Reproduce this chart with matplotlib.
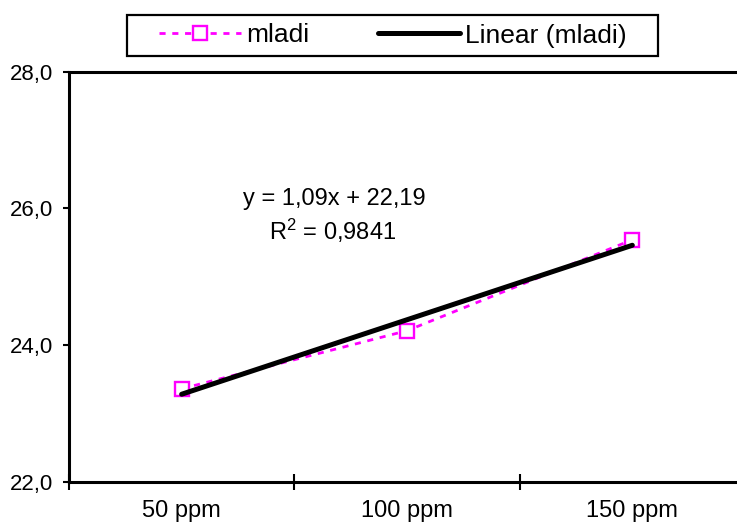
import numpy as np
import matplotlib
matplotlib.use("Agg")
import matplotlib.pyplot as plt
from matplotlib.ticker import FuncFormatter
from matplotlib.patches import Rectangle

plt.rcParams['font.family'] = ['Liberation Sans', 'DejaVu Sans']

categories = ["50 ppm", "100 ppm", "150 ppm"]
mladi = [23.36, 24.21, 25.54]
y_ticks = [22.0, 24.0, 26.0, 28.0]
series_label = "mladi"
trend_label = "Linear (mladi)"

W, H = 737, 528
x = np.arange(1, len(categories) + 1)
coef = np.polyfit(x, mladi, 1)
fit = np.polyval(coef, x)
ss_res = np.sum((np.array(mladi) - fit) ** 2)
ss_tot = np.sum((np.array(mladi) - np.mean(mladi)) ** 2)
r2 = 1 - ss_res / ss_tot

fig = plt.figure(figsize=(W / 100, H / 100), dpi=100)
ax = fig.add_axes([69 / W, 1 - 481.7 / H, (745 - 69) / W, (481.7 - 71.7) / H])

l1, = ax.plot(x, mladi, color='#FF00FF', lw=2.0, linestyle=(0, (2.2, 2.4)),
              marker='s', markersize=10, markerfacecolor='white',
              markeredgecolor='#FF00FF', markeredgewidth=1.7, zorder=3,
              label=series_label)
l2, = ax.plot(x, fit, color='black', lw=3.6, solid_capstyle='round', zorder=4,
              label=trend_label)

ax.set_xlim(0.5, len(categories) + 0.5)
ax.set_ylim(y_ticks[0], y_ticks[-1])
ax.set_yticks(y_ticks)
ax.yaxis.set_major_formatter(FuncFormatter(lambda v, p: f"{v:.1f}".replace('.', ',')))
ax.set_xticks(np.arange(0.5, len(categories) + 1.0, 1.0))
ax.set_xticklabels([])
ax.set_xticks(x, minor=True)
ax.set_xticklabels(categories, minor=True)

for s in ['left', 'bottom', 'top']:
    ax.spines[s].set_linewidth(2.2)
ax.spines['right'].set_visible(False)

ax.tick_params(axis='y', which='major', direction='out', length=4.5, width=1.5,
               labelsize=16, pad=7)
ax.tick_params(axis='x', which='major', direction='inout', length=11.5, width=1.5)
ax.tick_params(axis='x', which='minor', length=0, labelsize=17, pad=13)

eq = f"y = {coef[0]:.2f}x + {coef[1]:.2f}".replace('.', ',')
r2s = f"$\\mathregular{{R^2}}$ = {r2:.4f}".replace('.', ',')
fig.text(334 / W, 1 - 205 / H, eq, ha='center', va='baseline', fontsize=17)
fig.text(333 / W, 1 - 240 / H, r2s, ha='center', va='baseline', fontsize=17)

leg = fig.legend(handles=[l1, l2], loc='center', bbox_to_anchor=(393 / W, 1 - 35.5 / H),
                 ncol=2, fontsize=19, frameon=False, numpoints=1, handlelength=3.1,
                 handletextpad=0.2, columnspacing=2.6, borderpad=0.2, borderaxespad=0)
fig.patches.append(Rectangle((127 / W, 1 - 56 / H), (658 - 127) / W, (56 - 15) / H,
                             transform=fig.transFigure, fill=False, edgecolor='black',
                             linewidth=1.6))

fig.savefig("out.png", dpi=100)
